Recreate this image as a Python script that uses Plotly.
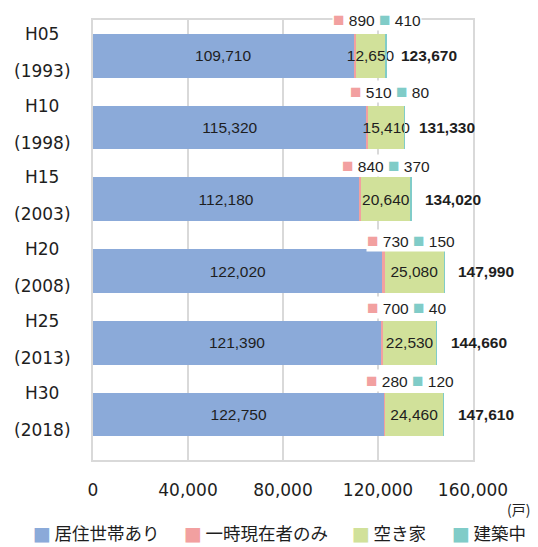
import plotly.graph_objects as go

# ---- data ----
cat_codes = ["H05", "H10", "H15", "H20", "H25", "H30"]
cat_years = ["(1993)", "(1998)", "(2003)", "(2008)", "(2013)", "(2018)"]
resident = [109710, 115320, 112180, 122020, 121390, 122750]
temporary = [890, 510, 840, 730, 700, 280]
vacant = [12650, 15410, 20640, 25080, 22530, 24460]
construction = [410, 80, 370, 150, 40, 120]
totals = [123670, 131330, 134020, 147990, 144660, 147610]
x_ticks = [0, 40000, 80000, 120000, 160000]
series_names = ["居住世帯あり", "一時現在者のみ", "空き家", "建築中"]
unit_label = "(戸)"

# ---- style ----
C_BLUE = "#8BAAD9"
C_PINK = "#F2A0A0"
C_GREEN = "#D1E19A"
C_TEAL = "#80CCC8"
series_colors = [C_BLUE, C_PINK, C_GREEN, C_TEAL]
NUM_FONT = "Liberation Sans, Arial, sans-serif"
LAT_FONT = "DejaVu Sans, Verdana, sans-serif"
JP_FONT = "Noto Sans CJK JP, sans-serif"
TXT = "#1e1e1e"
NUM_SIZE = 15.5

# the page body adds an 8px offset; layout below is expressed in screen pixels
OFF = 8
W, H = 538, 547
PLOT_L, PLOT_R, PLOT_T, PLOT_B = 93, 473, 20, 460   # plot area on screen
ML, MT = PLOT_L - OFF, PLOT_T - OFF
PW, PH = PLOT_R - PLOT_L, PLOT_B - PLOT_T
MR, MB = W - ML - PW, H - MT - PH

def px_x(p):  # screen pixel -> paper x
    return (p - PLOT_L) / PW

def px_y(p):  # screen pixel -> paper y
    return (PLOT_B - p) / PH

# positions of the small (pink/teal) labels in data units and their vertical offsets
small_label_x = [119370, 124630, 123160, 134100, 132000, 133470]
small_label_shift = [36, 36, 34, 31, 35, 34]

# custom legend layout (screen pixel positions of each entry)
legend_px = [31, 182, 350, 450]
legend_y_px = 532

fmt = lambda v: f"{v:,}"

fig = go.Figure()
fig.add_trace(go.Bar(
    y=cat_codes, x=resident, orientation="h", name=series_names[0],
    marker=dict(color=C_BLUE, line=dict(width=0)),
    text=[fmt(v) for v in resident], textposition="inside", textangle=0,
    insidetextanchor="middle", constraintext="none",
    textfont=dict(family=NUM_FONT, size=NUM_SIZE, color=TXT),
))
fig.add_trace(go.Bar(
    y=cat_codes, x=temporary, orientation="h", name=series_names[1],
    marker=dict(color=C_PINK, line=dict(width=0)),
))
fig.add_trace(go.Bar(
    y=cat_codes, x=vacant, orientation="h", name=series_names[2],
    marker=dict(color=C_GREEN, line=dict(width=0)),
    text=[fmt(v) for v in vacant], textposition="inside", textangle=0,
    insidetextanchor="middle", constraintext="none",
    textfont=dict(family=NUM_FONT, size=NUM_SIZE, color=TXT),
))
fig.add_trace(go.Bar(
    y=cat_codes, x=construction, orientation="h", name=series_names[3],
    marker=dict(color=C_TEAL, line=dict(width=0)),
))

annotations = []
for i, code in enumerate(cat_codes):
    # category labels (two lines)
    annotations.append(dict(xref="paper", yref="y", x=px_x(42), y=code, text=code,
                            showarrow=False, xanchor="center", yanchor="middle",
                            yshift=22, font=dict(family=LAT_FONT, size=17, color=TXT)))
    annotations.append(dict(xref="paper", yref="y", x=px_x(42), y=code, text=cat_years[i],
                            showarrow=False, xanchor="center", yanchor="middle",
                            yshift=-15, font=dict(family=LAT_FONT, size=17, color=TXT)))
    # totals
    annotations.append(dict(xref="x", yref="y", x=totals[i], y=code,
                            text=f"<b>{fmt(totals[i])}</b>", showarrow=False,
                            xanchor="left", yanchor="middle", xshift=12,
                            font=dict(family=NUM_FONT, size=NUM_SIZE, color=TXT)))
    # small labels for temporary / construction
    txt = (f"<span style='color:{C_PINK};font-size:19px'>■</span>\u00a0{fmt(temporary[i])}\u00a0"
           f"<span style='color:{C_TEAL};font-size:19px'>■</span>\u00a0{fmt(construction[i])}")
    annotations.append(dict(xref="x", yref="y", x=small_label_x[i], y=code, text=txt,
                            showarrow=False, xanchor="center", yanchor="middle",
                            yshift=small_label_shift[i], bgcolor="white", borderpad=0,
                            font=dict(family=NUM_FONT, size=NUM_SIZE, color=TXT)))

# unit label
annotations.append(dict(xref="paper", yref="paper", x=px_x(518), y=px_y(509), text=unit_label,
                        showarrow=False, xanchor="center", yanchor="middle", borderpad=0,
                        font=dict(family=JP_FONT, size=14, color=TXT)))

# legend (drawn as text so that it stays on one row like the reference)
for i, name in enumerate(series_names):
    entry = (f"<span style='color:{series_colors[i]};font-family:DejaVu Sans;font-size:19px'>■</span>"
             f"\u2009{name}")
    annotations.append(dict(xref="paper", yref="paper", x=px_x(legend_px[i]), y=px_y(legend_y_px),
                            text=entry, showarrow=False, xanchor="left", yanchor="middle",
                            font=dict(family=JP_FONT, size=17.5, color=TXT)))

fig.update_layout(
    width=W, height=H,
    margin=dict(l=ML, r=MR, t=MT, b=MB, autoexpand=False),
    barmode="stack", bargap=0.39,
    showlegend=False,
    plot_bgcolor="white", paper_bgcolor="white",
    font=dict(family=LAT_FONT, color=TXT),
    xaxis=dict(range=[0, 160000], tickvals=x_ticks, tickformat=",",
               showgrid=True, gridcolor="#D9D9D9", gridwidth=1.5,
               showline=True, linecolor="#D9D9D9", linewidth=2, mirror=True,
               zeroline=False, ticks="", ticklabelstandoff=14, automargin=False,
               tickfont=dict(family=LAT_FONT, size=17, color=TXT)),
    yaxis=dict(autorange="reversed", showticklabels=False, ticks="", automargin=False,
               showline=True, linecolor="#D9D9D9", linewidth=2, mirror=True,
               showgrid=False),
    annotations=annotations,
)

fig.write_html("out.html")
